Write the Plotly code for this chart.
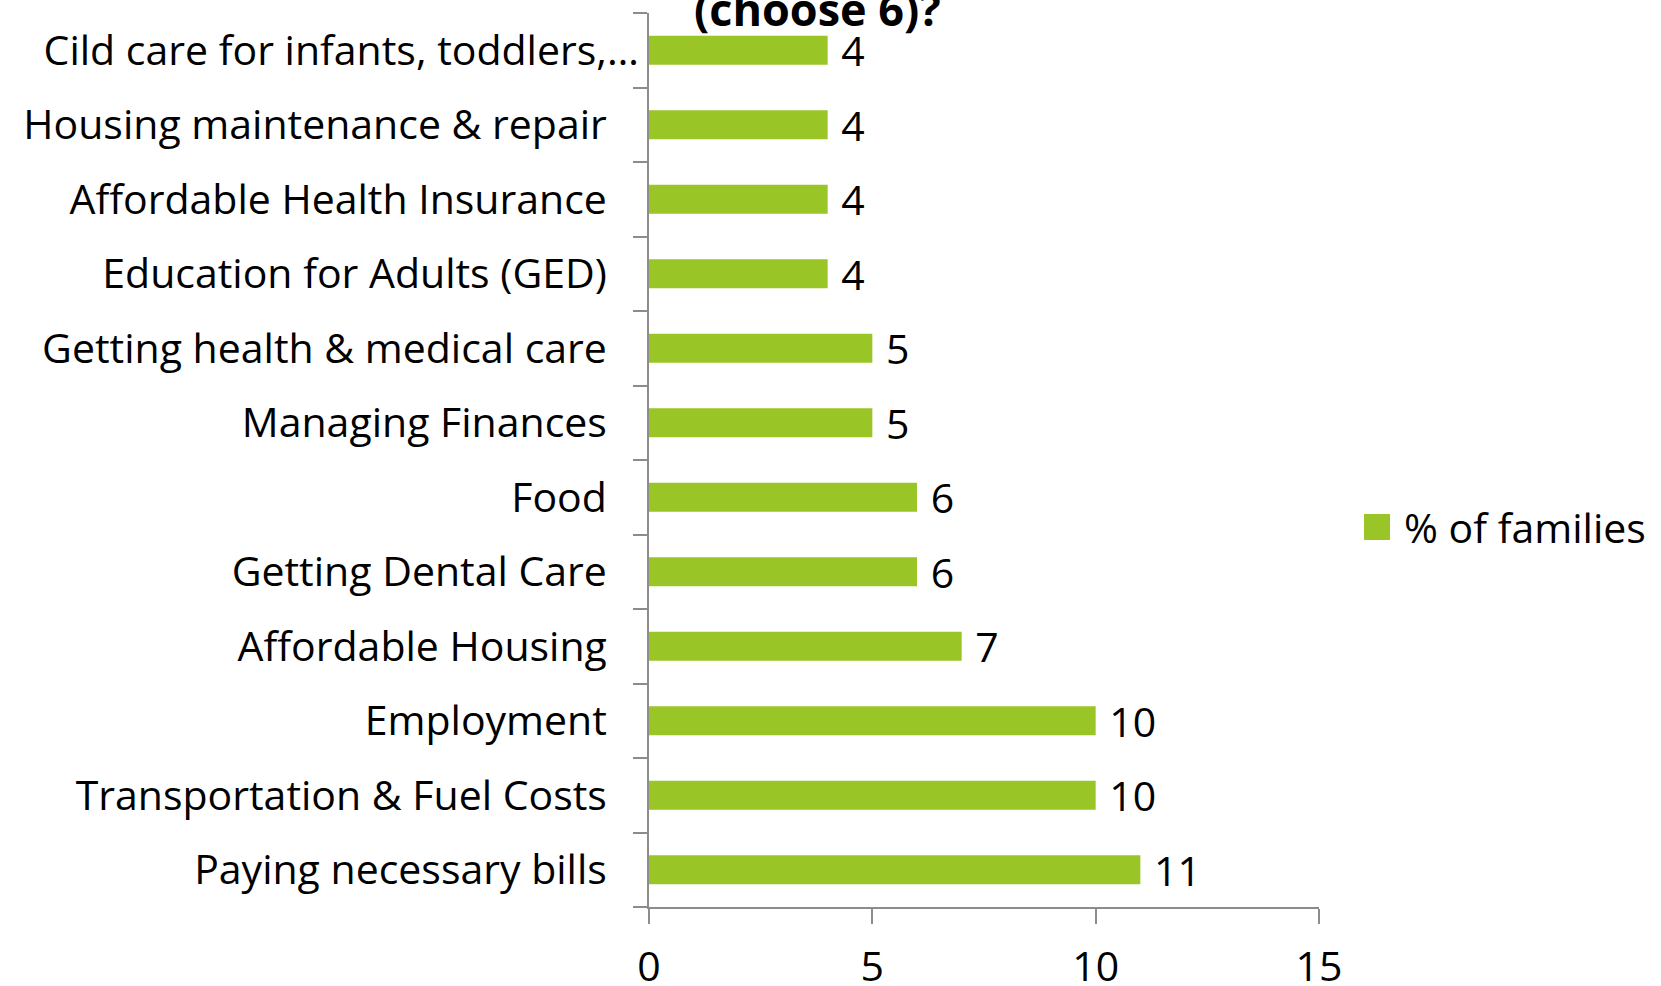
import plotly.graph_objects as go

categories = [
    "Paying necessary bills",
    "Transportation & Fuel Costs",
    "Employment",
    "Affordable Housing",
    "Getting Dental Care",
    "Food",
    "Managing Finances",
    "Getting health & medical care",
    "Education for Adults (GED)",
    "Affordable Health Insurance",
    "Housing maintenance & repair",
    "Cild care for infants, toddlers,…",
]
values = [11, 10, 10, 7, 6, 6, 5, 5, 4, 4, 4, 4]
x_ticks = [0, 5, 10, 15]
series_name = "% of families"
title_text = "(choose 6)?"

GREEN = "#99C626"
GRAY = "#8C8C8C"
FONT = "Open Sans"
FS = 41

# tick text: the truncated label sits closer to the axis in the original
pad = "\u00a0" * 3
ticktext = [c if c.endswith("…") else c + pad for c in categories]

fig = go.Figure()
fig.add_trace(go.Bar(
    y=categories,
    x=values,
    orientation="h",
    marker=dict(color=GREEN, line=dict(width=0)),
    text=values,
    texttemplate="\u00a0%{x}",
    textposition="outside",
    constraintext="none",
    textfont=dict(family=FONT, size=FS, color="black"),
    cliponaxis=False,
    name=series_name,
    showlegend=False,
))

W, H = 1661, 986
L, R, T, B = 649, 342, 13, 79
pw, ph = W - L - R, H - T - B

def px_x(p):
    return (p - L) / pw

def px_y(p):
    return (H - B - p) / ph

fig.update_layout(
    width=W, height=H,
    margin=dict(l=L, r=R, t=T, b=B, pad=0),
    paper_bgcolor="white",
    plot_bgcolor="white",
    bargap=0.61,
    font=dict(family=FONT, size=FS, color="black"),
    xaxis=dict(
        range=[0, 15],
        tickvals=x_ticks,
        automargin=False,
        ticks="outside", ticklen=15, tickwidth=2, tickcolor=GRAY,
        showline=True, linecolor=GRAY, linewidth=2,
        showgrid=False, zeroline=False,
        tickfont=dict(family=FONT, size=FS, color="black"),
        ticklabelstandoff=8,
    ),
    yaxis=dict(
        type="category",
        automargin=False,
        categoryorder="array", categoryarray=categories,
        tickmode="array", tickvals=categories, ticktext=ticktext,
        tickson="boundaries",
        ticks="outside", ticklen=14, tickwidth=2, tickcolor=GRAY,
        showline=True, linecolor=GRAY, linewidth=2,
        showgrid=False, zeroline=False,
        tickfont=dict(family=FONT, size=FS, color="black"),
    ),
    annotations=[
        dict(text="<b>" + title_text + "</b>", xref="paper", yref="paper",
             x=px_x(817), y=px_y(9), xanchor="center", yanchor="middle",
             showarrow=False, font=dict(family=FONT, size=45, color="black")),
        dict(text=series_name, xref="paper", yref="paper",
             x=px_x(1402), y=px_y(527), xanchor="left", yanchor="middle",
             showarrow=False, font=dict(family=FONT, size=FS, color="black")),
    ],
    shapes=[
        dict(type="rect", xref="paper", yref="paper",
             x0=px_x(1364), x1=px_x(1390), y0=px_y(540), y1=px_y(514),
             fillcolor=GREEN, line=dict(width=0)),
    ],
)

fig.write_html("out.html", config={"displayModeBar": False},
               post_script="document.body.style.margin='0';")
